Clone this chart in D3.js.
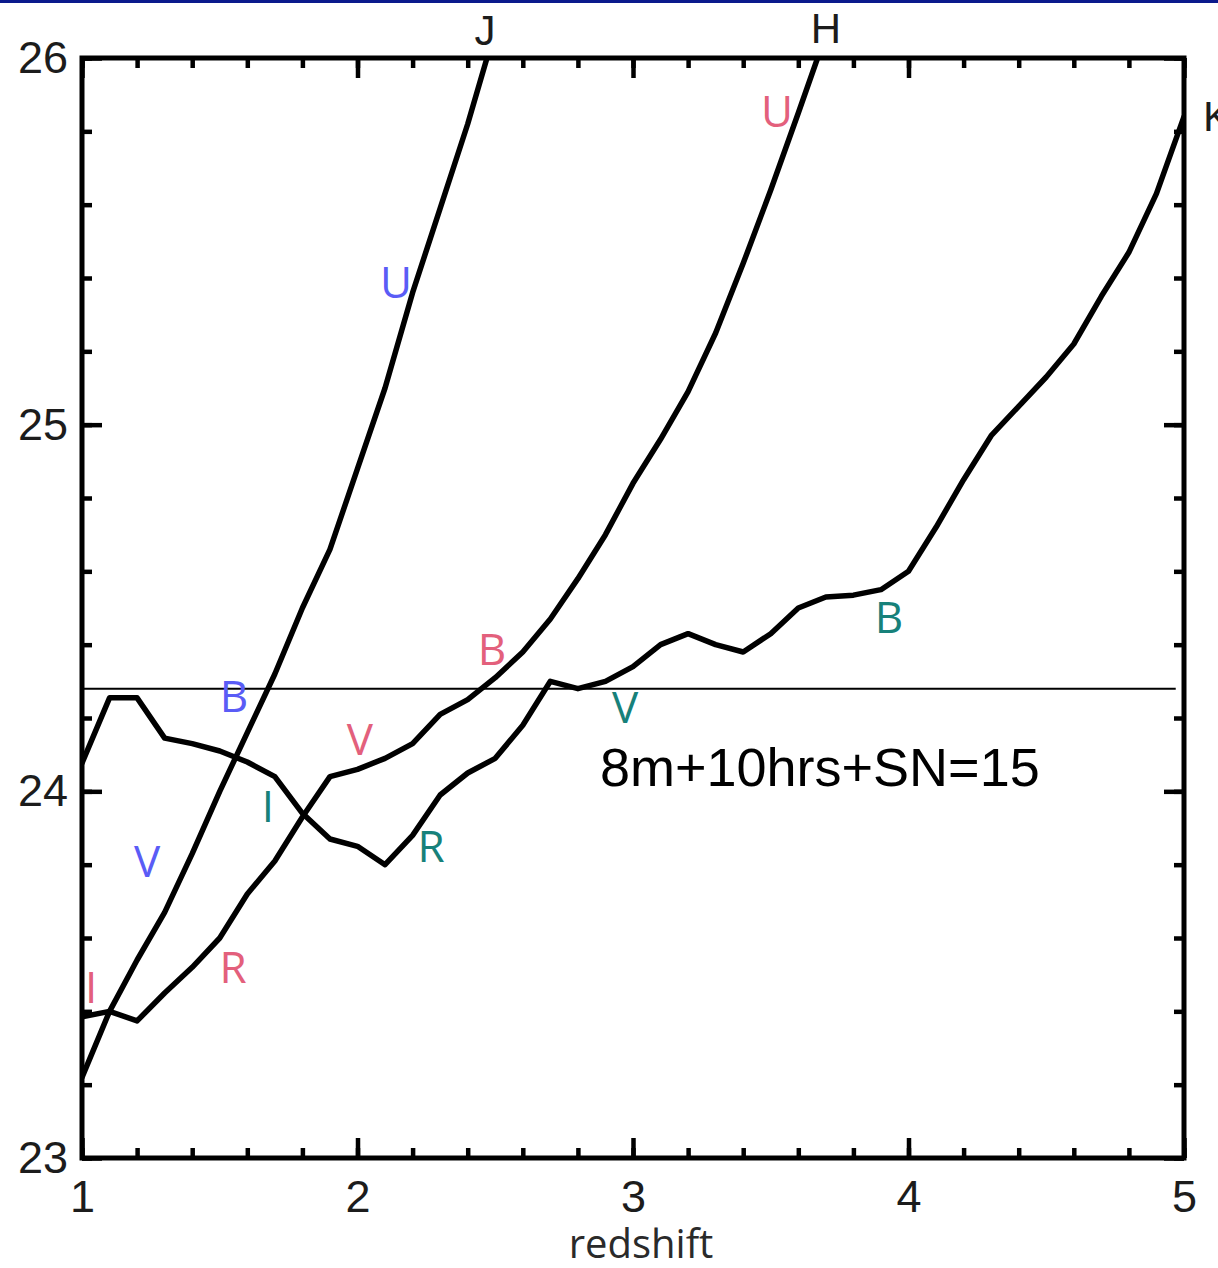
<!DOCTYPE html>
<html>
<head>
<meta charset="utf-8">
<script src="https://cdn.jsdelivr.net/npm/d3@7"></script>
<style>
  html, body { margin: 0; padding: 0; background: #fff; overflow: hidden; }
  svg { display: block; }
</style>
</head>
<body>
<svg id="chart" width="1218" height="1268"></svg>
<script>
// ---------------- data ----------------
const redshiftJ = [1.0, 1.1, 1.2, 1.3, 1.4, 1.5, 1.6, 1.7, 1.8, 1.9, 2.0, 2.1, 2.2, 2.3, 2.4, 2.47];
const magJ      = [23.22, 23.40, 23.54, 23.67, 23.83, 24.00, 24.16, 24.32, 24.50, 24.66, 24.88, 25.10, 25.36, 25.59, 25.82, 26.0];

const redshiftH = [1.0, 1.1, 1.2, 1.3, 1.4, 1.5, 1.6, 1.7, 1.8, 1.9, 2.0, 2.1, 2.2, 2.3, 2.4, 2.5, 2.6, 2.7, 2.8, 2.9, 3.0, 3.1, 3.2, 3.3, 3.4, 3.5, 3.6, 3.67];
const magH      = [23.385, 23.40, 23.374, 23.45, 23.52, 23.60, 23.72, 23.81, 23.93, 24.04, 24.06, 24.09, 24.13, 24.21, 24.25, 24.31, 24.38, 24.47, 24.58, 24.70, 24.84, 24.96, 25.09, 25.25, 25.44, 25.64, 25.85, 26.0];

const redshiftK = [1.0, 1.1, 1.2, 1.3, 1.4, 1.5, 1.6, 1.7, 1.8, 1.9, 2.0, 2.1, 2.2, 2.3, 2.4, 2.5, 2.6, 2.7, 2.8, 2.9, 3.0, 3.1, 3.2, 3.3, 3.4, 3.5, 3.6, 3.7, 3.8, 3.9, 4.0, 4.1, 4.2, 4.3, 4.4, 4.5, 4.6, 4.7, 4.8, 4.9, 5.0];
const magK      = [24.077, 24.255, 24.255, 24.145, 24.13, 24.11, 24.08, 24.04, 23.94, 23.87, 23.85, 23.80, 23.88, 23.99, 24.05, 24.09, 24.18, 24.30, 24.28, 24.30, 24.34, 24.40, 24.43, 24.40, 24.38, 24.43, 24.50, 24.53, 24.535, 24.55, 24.60, 24.72, 24.85, 24.97, 25.05, 25.13, 25.22, 25.35, 25.47, 25.63, 25.84];

const thresholdMag = 24.28;
const thresholdText = "8m+10hrs+SN=15";

const xMajorTicks = [1, 2, 3, 4, 5];
const yMajorTicks = [23, 24, 25, 26];
const xLabel = "redshift";

// curve name labels: [text, redshift, magnitude]
const curveNames = ["J", "H", "K"];
const curveNameX = [2.463, 3.70, 5.069];
const curveNameY = [26.035, 26.04, 25.80];

// band labels along curves
const bandTextJ = ["U", "B", "V"];
const bandXJ    = [2.140, 1.552, 1.236];
const bandYJ    = [25.345, 24.216, 23.766];

const bandTextH = ["I", "R", "V", "B", "U"];
const bandXH    = [1.033, 1.548, 2.009, 2.488, 3.523];
const bandYH    = [23.423, 23.477, 24.099, 24.345, 25.812];

const bandTextK = ["I", "R", "V", "B"];
const bandXK    = [1.675, 2.267, 2.971, 3.929];
const bandYK    = [23.916, 23.807, 24.186, 24.432];

// ---------------- layout ----------------
const svg = d3.select("#chart");
const W = 1218, H = 1268;
const margin = { left: 82, top: 58, right: 34, bottom: 110 };
const pw = W - margin.left - margin.right;   // 1102
const ph = H - margin.top - margin.bottom;   // 1100

const x = d3.scaleLinear().domain([1, 5]).range([margin.left, margin.left + pw]);
const y = d3.scaleLinear().domain([23, 26]).range([margin.top + ph, margin.top]);

const colBlue = "#5a5cf6", colPink = "#e3607c", colTeal = "#17817a";
const tickFont = "'Liberation Sans', Arial, Helvetica, sans-serif";
const bandFont = "'Open Sans', 'Noto Sans', sans-serif";

// top navy bar
svg.append("rect").attr("x", 0).attr("y", 0).attr("width", W).attr("height", 3).attr("fill", "#0b1a8c");

// clip
svg.append("defs").append("clipPath").attr("id", "plotclip")
  .append("rect").attr("x", margin.left).attr("y", margin.top).attr("width", pw).attr("height", ph);

// threshold line
svg.append("line")
  .attr("x1", x(1)).attr("x2", x(4.97))
  .attr("y1", y(thresholdMag)).attr("y2", y(thresholdMag))
  .attr("stroke", "#000").attr("stroke-width", 2);

// curves
const line = d3.line().x(d => x(d[0])).y(d => y(d[1]));
const curves = [
  d3.zip(redshiftJ, magJ),
  d3.zip(redshiftH, magH),
  d3.zip(redshiftK, magK)
];
svg.append("g").attr("clip-path", "url(#plotclip)")
  .selectAll("path").data(curves).join("path")
  .attr("d", line)
  .attr("fill", "none").attr("stroke", "#000").attr("stroke-width", 5.5)
  .attr("stroke-linejoin", "round").attr("stroke-linecap", "round");

// axes
const minorX = d3.range(1, 5.0001, 0.2).map(v => +v.toFixed(2));
const minorY = d3.range(23, 26.0001, 0.2).map(v => +v.toFixed(2));

function styleAxis(g) {
  g.select(".domain").remove();
  g.selectAll(".tick line").attr("stroke", "#000").attr("stroke-width", 4.5);
  g.selectAll(".tick text").attr("font-family", tickFont).attr("font-size", 45).attr("fill", "#1c1c1c");
}

// bottom
svg.append("g").attr("transform", `translate(0,${y(23)})`)
  .call(d3.axisBottom(x).tickValues(minorX).tickSize(-10).tickFormat(""))
  .call(styleAxis);
svg.append("g").attr("transform", `translate(0,${y(23)})`)
  .call(d3.axisBottom(x).tickValues(xMajorTicks).tickSize(-20).tickPadding(22).tickFormat(d3.format("d")))
  .call(styleAxis);
// top
svg.append("g").attr("transform", `translate(0,${y(26)})`)
  .call(d3.axisTop(x).tickValues(minorX).tickSize(-10).tickFormat(""))
  .call(styleAxis);
svg.append("g").attr("transform", `translate(0,${y(26)})`)
  .call(d3.axisTop(x).tickValues(xMajorTicks).tickSize(-20).tickFormat(""))
  .call(styleAxis);
// left
svg.append("g").attr("transform", `translate(${x(1)},0)`)
  .call(d3.axisLeft(y).tickValues(minorY).tickSize(-10).tickFormat(""))
  .call(styleAxis);
svg.append("g").attr("transform", `translate(${x(1)},0)`)
  .call(d3.axisLeft(y).tickValues(yMajorTicks).tickSize(-20).tickPadding(14).tickFormat(d3.format("d")))
  .call(styleAxis);
// right
svg.append("g").attr("transform", `translate(${x(5)},0)`)
  .call(d3.axisRight(y).tickValues(minorY).tickSize(-10).tickFormat(""))
  .call(styleAxis);
svg.append("g").attr("transform", `translate(${x(5)},0)`)
  .call(d3.axisRight(y).tickValues(yMajorTicks).tickSize(-20).tickFormat(""))
  .call(styleAxis);

// frame
svg.append("rect")
  .attr("x", x(1)).attr("y", y(26)).attr("width", x(5) - x(1)).attr("height", y(23) - y(26))
  .attr("fill", "none").attr("stroke", "#000").attr("stroke-width", 5);

// x label
svg.append("text")
  .attr("x", (x(1) + x(5)) / 2 + 8).attr("y", 1258)
  .attr("text-anchor", "middle")
  .attr("font-family", bandFont).attr("font-size", 40).attr("fill", "#2a2a2a")
  .text(xLabel);

// curve names
svg.append("g").selectAll("text").data(curveNames).join("text")
  .attr("x", (d, i) => x(curveNameX[i]))
  .attr("y", (d, i) => y(curveNameY[i]))
  .attr("text-anchor", (d, i) => i === 2 ? "start" : "middle")
  .attr("font-family", tickFont).attr("font-size", 42).attr("fill", "#1c1c1c")
  .text(d => d);

// band labels
function bandLabels(texts, xs, ys, color) {
  svg.append("g").selectAll("text").data(texts).join("text")
    .attr("x", (d, i) => x(xs[i]))
    .attr("y", (d, i) => y(ys[i]))
    .attr("text-anchor", "middle")
    .attr("font-family", bandFont).attr("font-size", 44).attr("fill", color)
    .text(d => d);
}
bandLabels(bandTextJ, bandXJ, bandYJ, colBlue);
bandLabels(bandTextH, bandXH, bandYH, colPink);
bandLabels(bandTextK, bandXK, bandYK, colTeal);

// annotation
svg.append("text")
  .attr("x", x(2.880)).attr("y", y(24.015))
  .attr("font-family", tickFont).attr("font-size", 54).attr("fill", "#000")
  .text(thresholdText);
</script>
</body>
</html>
